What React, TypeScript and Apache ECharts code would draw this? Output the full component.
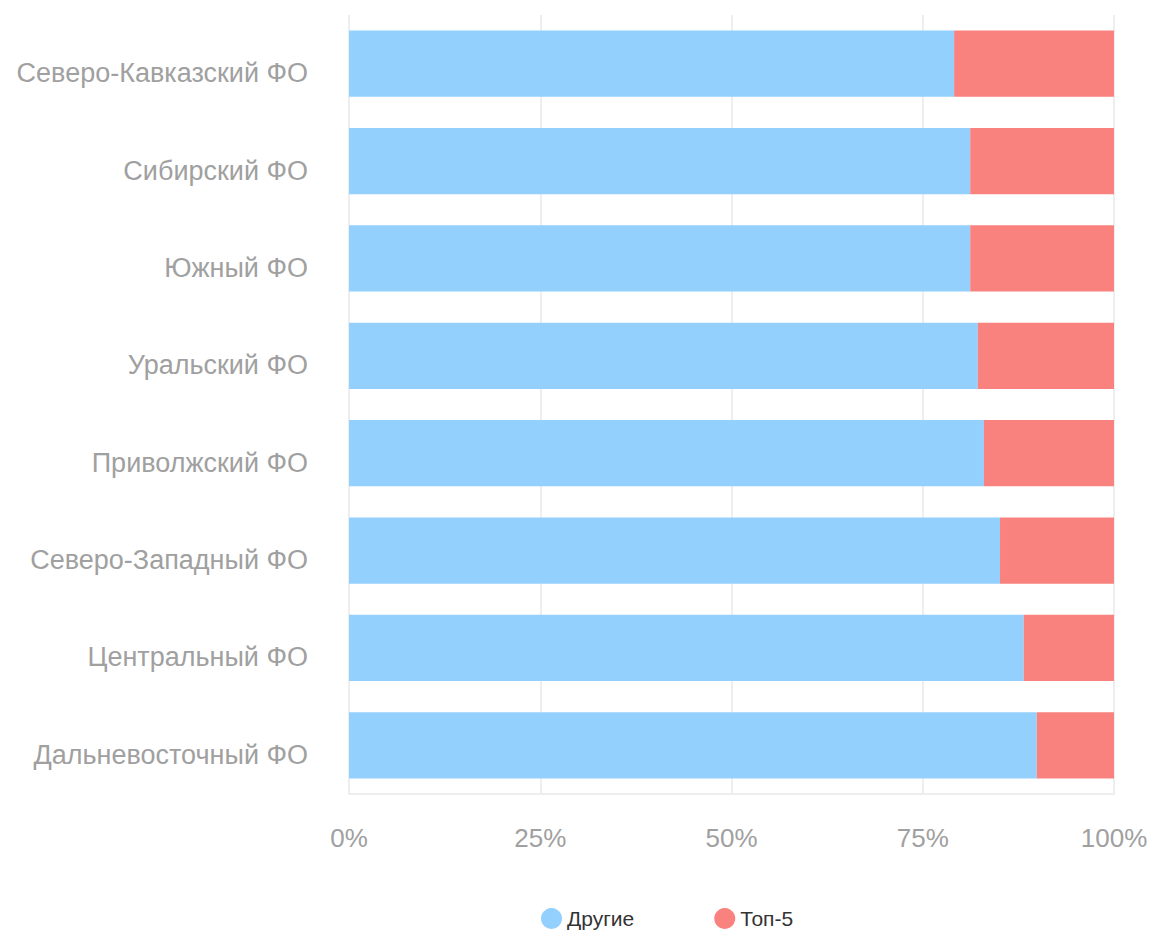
import React, { useEffect, useRef } from "react";
import * as echarts from "echarts";

const categories = [
  "Северо-Кавказский ФО",
  "Сибирский ФО",
  "Южный ФО",
  "Уральский ФО",
  "Приволжский ФО",
  "Северо-Западный ФО",
  "Центральный ФО",
  "Дальневосточный ФО",
];
const others = [79.1, 81.2, 81.2, 82.2, 83.0, 85.1, 88.2, 89.9];
const top5 = [20.9, 18.8, 18.8, 17.8, 17.0, 14.9, 11.8, 10.1];
const seriesNames = ["Другие", "Топ-5"];

export default function App() {
  const ref = useRef<HTMLDivElement>(null);
  useEffect(() => {
    if (!ref.current) return;
    const chart = echarts.init(ref.current, undefined, { renderer: "svg" });
    const font = "'Liberation Sans', Arial, Helvetica, sans-serif";
    chart.setOption({
      animation: false,
      textStyle: { fontFamily: font },
      grid: { left: 349, right: 37, top: 15, bottom: 137, containLabel: false },
      legend: {
        top: 903,
        left: 536,
        icon: "circle",
        itemWidth: 21,
        itemHeight: 21,
        itemGap: 80,
        textStyle: { fontSize: 21, color: "#333", fontFamily: font },
        data: seriesNames,
      },
      xAxis: {
        type: "value",
        min: 0,
        max: 100,
        interval: 25,
        axisLabel: {
          formatter: "{value}%",
          fontSize: 26,
          color: "#a0a0a0",
          margin: 31,
          fontFamily: font,
        },
        axisLine: { show: true, lineStyle: { color: "#eeeeee", width: 2 } },
        axisTick: { show: false },
        splitLine: { show: true, lineStyle: { color: "#eeeeee", width: 2 } },
      },
      yAxis: {
        type: "category",
        inverse: true,
        data: categories,
        axisLabel: {
          fontSize: 27,
          color: "#a0a0a0",
          margin: 41,
          fontFamily: font,
          verticalAlign: "top",
          lineHeight: 19,
        },
        axisLine: { show: false },
        axisTick: { show: false },
      },
      series: [
        {
          name: seriesNames[0],
          type: "bar",
          stack: "total",
          data: others,
          barWidth: "68%",
          itemStyle: { color: "#94d0fd" },
        },
        {
          name: seriesNames[1],
          type: "bar",
          stack: "total",
          data: top5,
          barWidth: "68%",
          itemStyle: { color: "#fa827e" },
        },
      ],
    });
    return () => chart.dispose();
  }, []);
  return (
    <div
      ref={ref}
      style={{ position: "fixed", left: 0, top: 0, width: 1151, height: 931, background: "#fff" }}
    />
  );
}
